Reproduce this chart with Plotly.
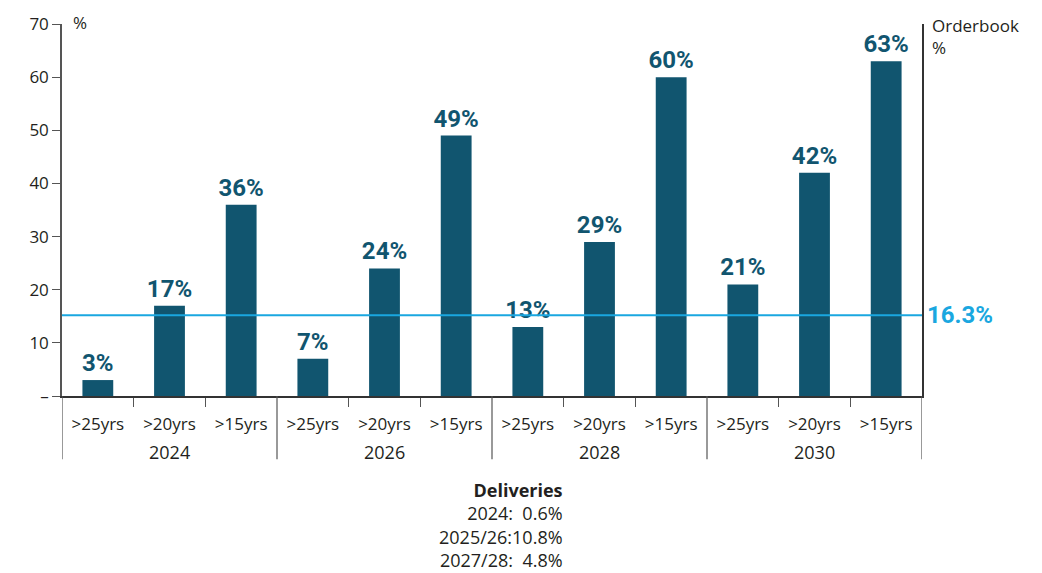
import plotly.graph_objects as go

# Orderbook share by vessel age threshold and delivery year
years = ["2024", "2026", "2028", "2030"]
age_groups = [">25yrs", ">20yrs", ">15yrs"]
shares = [3, 17, 36, 7, 24, 49, 13, 29, 60, 21, 42, 63]

orderbook_pct = 16.3
y_ticks = [0, 10, 20, 30, 40, 50, 60, 70]
y_tick_text = ["–", "10", "20", "30", "40", "50", "60", "70"]
deliveries = [("2024:", "0.6%"), ("2025/26:", "10.8%"), ("2027/28:", "4.8%")]

BAR = "#11556f"
LINE = "#1aa7e0"
TEXT = "#231f20"
AXIS = "#555555"
BODY_FONT = "Open Sans, Noto Sans, sans-serif"
LABEL_FONT = "Roboto, Liberation Sans, sans-serif"

n_sub = len(age_groups)
positions = list(range(len(shares)))
sub_labels = age_groups * len(years)
group_centers = [g * n_sub + (n_sub - 1) / 2 for g in range(len(years))]
group_edges = [g * n_sub - 0.5 for g in range(len(years) + 1)]
inner_edges = [g * n_sub + k - 0.5 for g in range(len(years)) for k in range(1, n_sub)]

fig = go.Figure()
fig.add_trace(go.Bar(
    x=positions,
    y=shares,
    marker=dict(color=BAR, line=dict(width=0)),
    width=0.43,
    text=[f"{v}%" for v in shares],
    textposition="outside",
    constraintext="none",
    textfont=dict(family=LABEL_FONT, size=24, color=BAR, weight="bold"),
    cliponaxis=False,
    showlegend=False,
))

# invisible trace to activate the right-hand orderbook axis
fig.add_trace(go.Scatter(
    x=positions, y=[None] * len(shares), yaxis="y2",
    mode="lines", showlegend=False, hoverinfo="skip",
))

fig.add_shape(type="line", xref="paper", x0=0, x1=1,
              yref="y2", y0=orderbook_pct, y1=orderbook_pct,
              line=dict(color=LINE, width=2))

# group dividers running down through the category labels
for xe in group_edges:
    fig.add_shape(type="line", xref="x", x0=xe, x1=xe,
                  yref="paper", y0=0, y1=-0.17,
                  line=dict(color=AXIS, width=1.2))

for xc, yr in zip(group_centers, years):
    fig.add_annotation(xref="x", x=xc, yref="paper", y=-0.151, yanchor="middle",
                       text=yr, showarrow=False,
                       font=dict(family=BODY_FONT, size=18, color=TEXT))

fig.add_annotation(xref="paper", x=1.003, xanchor="left",
                   yref="y2", y=orderbook_pct, yanchor="middle",
                   text=f"{orderbook_pct}%", showarrow=False,
                   font=dict(family=LABEL_FONT, size=24, color=LINE, weight="bold"))

fig.add_annotation(xref="paper", x=0.01, xanchor="left",
                   yref="paper", y=1.005, yanchor="middle",
                   text="%", showarrow=False,
                   font=dict(family=BODY_FONT, size=17, color=TEXT))
fig.add_annotation(xref="paper", x=1.009, xanchor="left",
                   yref="paper", y=1.033, yanchor="top",
                   text="Orderbook<br>%", showarrow=False, align="left",
                   font=dict(family=BODY_FONT, size=17, color=TEXT))

deliv_text = "<b>Deliveries</b><br>" + "<br>".join(
    f"{k}{'' if len(v) > 4 else '  '}{v}" for k, v in deliveries)
fig.add_annotation(xref="paper", x=0.585, xanchor="right",
                   yref="paper", y=-0.216, yanchor="top",
                   text=deliv_text, showarrow=False, align="right",
                   font=dict(family=BODY_FONT, size=18, color=TEXT))

fig.update_layout(
    width=1042, height=573,
    margin=dict(l=62, r=120, t=19, b=177),
    paper_bgcolor="white", plot_bgcolor="white",
    font=dict(family=BODY_FONT, size=17, color=TEXT),
    xaxis=dict(
        range=[-0.5, len(shares) - 0.5], autorange=False,
        tickvals=positions, ticktext=sub_labels,
        showline=True, linecolor="#333333", linewidth=1.5,
        ticks="", ticklabelstandoff=12,
        minor=dict(tickvals=inner_edges, ticks="outside", ticklen=9,
                   tickcolor=AXIS, tickwidth=1.2, showgrid=False),
        showgrid=False, zeroline=False,
        tickfont=dict(family=BODY_FONT, size=17, color=TEXT),
    ),
    yaxis=dict(
        range=[0, 70], tickvals=y_ticks, ticktext=y_tick_text,
        showline=True, linecolor=AXIS, linewidth=1.5,
        ticks="outside", ticklen=8, tickcolor=AXIS,
        showgrid=False, zeroline=False,
        tickfont=dict(family=BODY_FONT, size=17, color=TEXT),
    ),
    yaxis2=dict(
        overlaying="y", side="right", range=[0, 75],
        showline=True, linecolor="#333333", linewidth=1.5,
        showticklabels=False, ticks="", showgrid=False, zeroline=False,
    ),
)

fig.write_html("out.html")
